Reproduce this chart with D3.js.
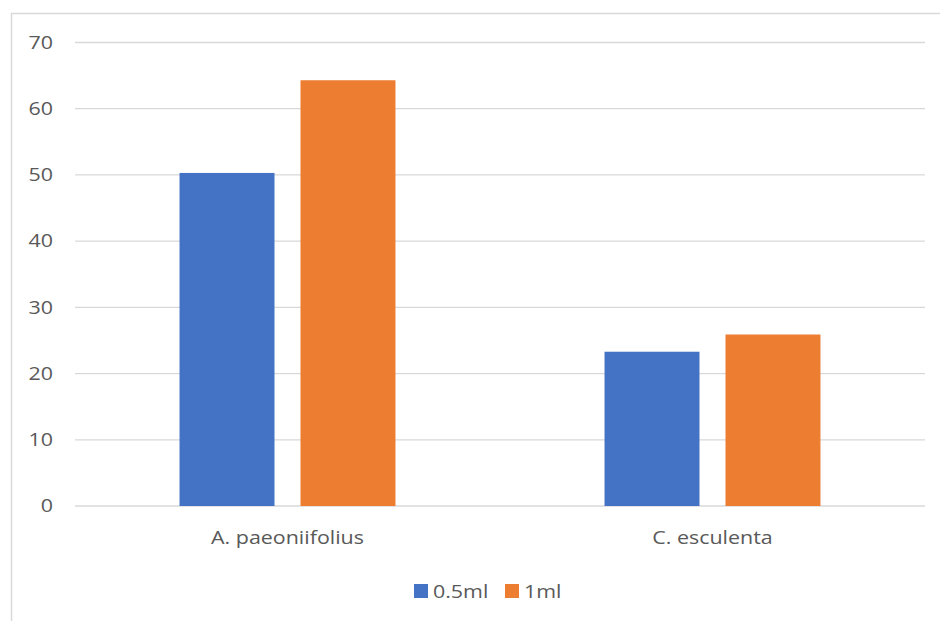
<!DOCTYPE html>
<html>
<head>
<meta charset="utf-8">
<script src="https://cdn.jsdelivr.net/npm/d3@7"></script>
<style>
  html, body { margin: 0; padding: 0; background: #fff; }
  svg { display: block; font-family: "Open Sans", "Liberation Sans", sans-serif; }
</style>
</head>
<body>
<svg id="chart" width="940" height="621"></svg>
<script>
// Species on the x axis and the two dose series
const categories = ["A. paeoniifolius", "C. esculenta"];
const seriesNames = ["0.5ml", "1ml"];
const values05 = [50.3, 23.3];
const values1 = [64.3, 25.9];
const yTicks = [0, 10, 20, 30, 40, 50, 60, 70];
const colors = ["#4472C4", "#ED7D31"];

const svg = d3.select("#chart");
const W = 940, H = 621;
const FONT = "18px";
const WIDEN = 1.19;   // labels are set a little wider than the font's natural width

// Widen text horizontally around its anchor
function widen(sel) {
  sel.each(function () {
    const len = this.getComputedTextLength();
    d3.select(this).attr("textLength", len * WIDEN).attr("lengthAdjust", "spacingAndGlyphs");
  });
}

// Outer chart frame
svg.append("rect")
  .attr("x", 11.5).attr("y", 13.5)
  .attr("width", W + 10).attr("height", H + 10)
  .attr("fill", "#fff").attr("stroke", "#D9D9D9").attr("stroke-width", 1.5);

const plot = { left: 75, right: 925, top: 42.5, bottom: 506 };

const x0 = d3.scaleBand().domain(categories).range([plot.left, plot.right]).paddingInner(0).paddingOuter(0);
const x1 = d3.scaleBand().domain(seriesNames).range([0, x0.bandwidth()]).paddingInner(0.215).paddingOuter(0.864);
const y = d3.scaleLinear().domain([0, 70]).range([plot.bottom, plot.top]);

// Horizontal gridlines
svg.append("g")
  .selectAll("line").data(yTicks).join("line")
  .attr("x1", plot.left).attr("x2", plot.right)
  .attr("y1", d => y(d)).attr("y2", d => y(d))
  .attr("stroke", "#D9D9D9").attr("stroke-width", 1.3);

// Y axis labels
const yAxis = d3.axisLeft(y).tickValues(yTicks).tickSize(0).tickPadding(0);
const gy = svg.append("g").attr("transform", `translate(53,0)`).call(yAxis);
gy.select(".domain").remove();
gy.selectAll("text").attr("fill", "#595959").style("font-size", FONT)
  .attr("font-family", "Open Sans, Liberation Sans, sans-serif").call(widen);

// Bars
const rows = categories.map((c, i) => ({ cat: c, vals: [values05[i], values1[i]] }));
const groups = svg.append("g").selectAll("g").data(rows).join("g")
  .attr("transform", d => `translate(${x0(d.cat)},0)`);
groups.selectAll("rect")
  .data(d => d.vals.map((v, j) => ({ name: seriesNames[j], v, j })))
  .join("rect")
  .attr("x", d => x1(d.name))
  .attr("width", x1.bandwidth())
  .attr("y", d => y(d.v))
  .attr("height", d => y(0) - y(d.v))
  .attr("fill", d => colors[d.j]);

// Category axis labels
const xAxis = d3.axisBottom(x0).tickSize(0).tickPadding(0);
const gx = svg.append("g").attr("transform", `translate(0,${plot.bottom + 37.5})`).call(xAxis);
gx.select(".domain").remove();
gx.selectAll("text").attr("fill", "#595959").style("font-size", FONT)
  .attr("dy", 0).attr("font-family", "Open Sans, Liberation Sans, sans-serif").call(widen);

// Legend
const legend = svg.append("g").attr("transform", "translate(414,591)");
const items = [{ name: seriesNames[0], x: 0 }, { name: seriesNames[1], x: 91 }];
items.forEach((it, i) => {
  legend.append("rect").attr("x", it.x).attr("y", -7).attr("width", 14).attr("height", 14).attr("fill", colors[i]);
  legend.append("text").attr("x", it.x + 19).attr("y", 6.5)
    .attr("fill", "#595959").style("font-size", FONT).text(it.name).call(widen);
});
</script>
</body>
</html>
